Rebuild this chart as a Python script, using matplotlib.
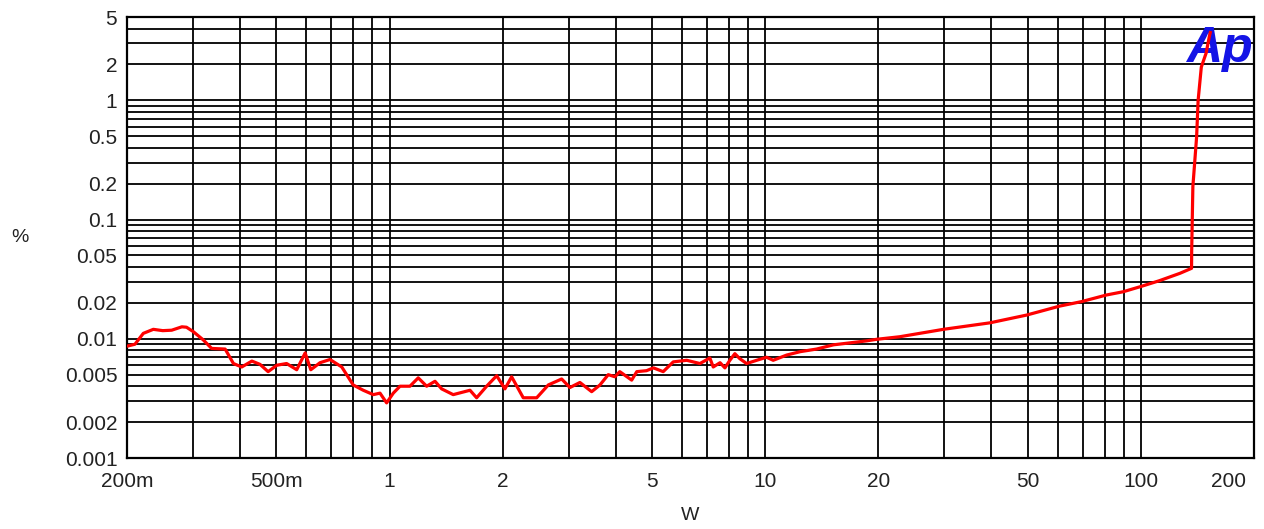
import matplotlib
matplotlib.use("Agg")
import matplotlib.pyplot as plt
import matplotlib.transforms as mtransforms
from matplotlib.ticker import FixedLocator, LogLocator, NullFormatter

plt.rcParams["font.family"] = ["Liberation Sans", "DejaVu Sans"]

# THD+N (%) vs output power (W)
power_w = [
    0.201, 0.210, 0.221, 0.235, 0.249, 0.263, 0.280, 0.288, 0.300, 0.319,
    0.336, 0.365, 0.384, 0.404, 0.430, 0.452, 0.475, 0.501, 0.532, 0.566,
    0.596, 0.617, 0.653, 0.694, 0.746, 0.800, 0.851, 0.905, 0.943, 0.982,
    1.023, 1.066, 1.133, 1.192, 1.255, 1.321, 1.376, 1.477, 1.637, 1.705,
    1.813, 1.928, 2.028, 2.113, 2.269, 2.464, 2.646, 2.871, 3.020, 3.211,
    3.451, 3.631, 3.82, 3.98, 4.10, 4.41, 4.55, 4.83, 5.04, 5.35,
    5.69, 6.18, 6.70, 7.12, 7.27, 7.58, 7.81, 8.05, 8.30, 8.56,
    8.92, 9.49, 10.08, 10.5, 11.4, 12.4, 13.7, 15.2, 18.6, 19.8,
    22.8, 29.8, 39.6, 49.6, 60.8, 69.5, 81.0, 89.7, 99.4, 112.0,
    127.0, 136.4, 136.5, 137.5, 140.7, 142.0, 144.8, 149.2, 152.0, 153.0,
]
thd_pct = [
    0.0087, 0.0090, 0.0111, 0.0120, 0.0117, 0.0118, 0.0126, 0.0125, 0.0115, 0.0098,
    0.0083, 0.0082, 0.0062, 0.0058, 0.0065, 0.0061, 0.0053, 0.0060, 0.0062, 0.0055,
    0.0076, 0.0055, 0.0063, 0.0067, 0.0058, 0.0041, 0.0037, 0.0034, 0.0035, 0.0029,
    0.0035, 0.0040, 0.0040, 0.0047, 0.0040, 0.0044, 0.0038, 0.0034, 0.0037, 0.0032,
    0.0040, 0.0049, 0.0038, 0.0048, 0.0032, 0.0032, 0.0041, 0.0046, 0.0039, 0.0043,
    0.0036, 0.0041, 0.0050, 0.0048, 0.0053, 0.0045, 0.0053, 0.0054, 0.0057, 0.0053,
    0.0064, 0.0066, 0.0062, 0.0069, 0.0058, 0.0063, 0.0057, 0.0066, 0.0075, 0.0068,
    0.0062, 0.0066, 0.0070, 0.0066, 0.0073, 0.0078, 0.0082, 0.0089, 0.0096, 0.0099,
    0.0104, 0.0120, 0.0136, 0.0158, 0.0188, 0.0205, 0.0233, 0.0248, 0.0273, 0.0307,
    0.0354, 0.0390, 0.0540, 0.1890, 0.4950, 1.0000, 1.9000, 2.5000, 3.4000, 3.7000,
]

x_ticks = [0.2, 0.5, 1, 2, 5, 10, 20, 50, 100, 200]
x_labels = ["200m", "500m", "1", "2", "5", "10", "20", "50", "100", "200"]
y_ticks = [0.001, 0.002, 0.005, 0.01, 0.02, 0.05, 0.1, 0.2, 0.5, 1, 2, 5]
y_labels = ["0.001", "0.002", "0.005", "0.01", "0.02", "0.05", "0.1", "0.2", "0.5", "1", "2", "5"]

fig = plt.figure(figsize=(12.64, 5.29), dpi=100)
ax = fig.add_axes([127 / 1264, 1 - 458 / 529, (1254 - 127) / 1264, (458 - 17) / 529])

ax.plot(power_w, thd_pct, color="#ff0000", linewidth=2.3, zorder=4)

ax.set_xscale("log")
ax.set_yscale("log")
ax.set_xlim(0.2, 200)
ax.set_ylim(0.001, 5)

ax.xaxis.set_major_locator(FixedLocator(x_ticks))
ax.set_xticklabels(x_labels)
ax.yaxis.set_major_locator(FixedLocator(y_ticks))
ax.set_yticklabels(y_labels)
ax.xaxis.set_minor_locator(LogLocator(base=10, subs=range(1, 10), numticks=50))
ax.yaxis.set_minor_locator(LogLocator(base=10, subs=range(1, 10), numticks=50))
ax.xaxis.set_minor_formatter(NullFormatter())
ax.yaxis.set_minor_formatter(NullFormatter())

ax.grid(True, which="both", color="black", linewidth=1.3)
ax.set_axisbelow(True)
ax.tick_params(which="both", length=0)
ax.tick_params(axis="x", pad=10, labelsize=15, labelcolor="#222222")
ax.tick_params(axis="y", pad=7, labelsize=15, labelcolor="#222222")
for s in ax.spines.values():
    s.set_linewidth(1.6)
    s.set_color("black")

# last x label sits inside the figure edge, as in the reference
last = ax.get_xticklabels()[-1]
last.set_horizontalalignment("right")
last.set_transform(last.get_transform() + mtransforms.ScaledTranslation(-8 / 100, 0, fig.dpi_scale_trans))

fig.text(20 / 1264, 1 - 237 / 529, "%", fontsize=14, color="#222222", ha="center", va="center")
fig.text(690 / 1264, 1 - 516 / 529, "W", fontsize=14, color="#222222", ha="center", va="center")

ax.text(1186 / 1264, 1 - 62 / 529, "Ap", transform=fig.transFigure, fontsize=36,
        fontweight="bold", fontstyle="italic", color="#1414e6", ha="left",
        va="baseline", zorder=3)

fig.savefig("out.png", dpi=100, facecolor="white")
